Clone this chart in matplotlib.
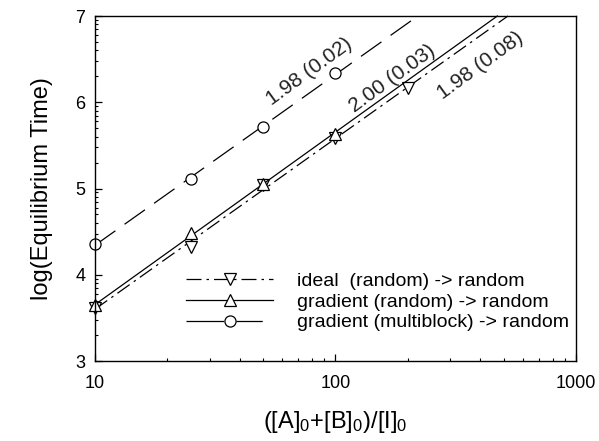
import numpy as np
import matplotlib
matplotlib.use("Agg")
import matplotlib.pyplot as plt
from matplotlib.ticker import FixedLocator, NullFormatter, FuncFormatter

plt.rcParams["font.family"] = ["Liberation Sans", "DejaVu Sans"]
plt.rcParams["mathtext.default"] = "regular"

# Chain-length ratio ([A]0+[B]0)/[I]0 and log of equilibrium time
ratio_ideal = [10, 25, 50, 100, 200]
logt_ideal = [3.62, 4.32, 5.04, 5.58, 6.17]

ratio_grad = [10, 25, 50, 100]
logt_grad = [3.65, 4.48, 5.05, 5.63]

ratio_multi = [10, 25, 50, 100]
logt_multi = [4.36, 5.11, 5.71, 6.34]

# Fitted scaling exponents (standard error)
slope_ideal, err_ideal = 1.98, 0.08
slope_grad, err_grad = 2.00, 0.03
slope_multi, err_multi = 1.98, 0.02

labels = ["ideal  (random) -> random",
          "gradient (random) -> random",
          "gradient (multiblock) -> random"]

fig = plt.figure(figsize=(5.99, 4.41), dpi=100)
ax = fig.add_axes([0.1586, 0.1814, 0.803, 0.7823])
ax.set_xscale("log")
ax.set_xlim(10, 1000)
ax.set_ylim(3, 7)


def fit_line(xs, ys, slope):
    lx = np.log10(np.asarray(xs, float))
    icpt = np.mean(np.asarray(ys) - slope * lx)
    x_end = 10 ** ((7 - icpt) / slope)
    xx = np.logspace(1, np.log10(x_end), 50)
    return xx, icpt + slope * np.log10(xx)


series = [
    (ratio_ideal, logt_ideal, slope_ideal, "v", (0, (12, 4, 2, 4)), (0, (12, 4, 2, 4))),
    (ratio_grad, logt_grad, slope_grad, "^", "-", "-"),
    (ratio_multi, logt_multi, slope_multi, "o", (0, (20, 9)), (0, (30, 10, 21, 20))),
]

handles = []
for (xs, ys, s, mk, ls, leg_ls), lab in zip(series, labels):
    xx, yy = fit_line(xs, ys, s)
    ax.plot(xx, yy, color="black", lw=0.9, linestyle=ls, clip_on=False)
    ax.plot(xs, ys, linestyle="none", marker=mk, markersize=8,
            markerfacecolor="white", markeredgecolor="black", mew=0.9,
            clip_on=False)
    h, = ax.plot([], [], color="black", lw=0.9, linestyle=leg_ls, marker=mk,
                 markersize=8, markerfacecolor="white",
                 markeredgecolor="black", mew=0.9, label=lab)
    handles.append(h)

# Exponent annotations along each line
ann_kw = dict(rotation=36, ha="center", va="center", fontsize=15,
              rotation_mode="anchor", color="#222222")
ax.text(78, 6.35, f"{slope_multi:.2f} ({err_multi:.2f})", **ann_kw)
ax.text(172, 6.28, f"{slope_grad:.2f} ({err_grad:.2f})", **ann_kw)
ax.text(400, 6.43, f"{slope_ideal:.2f} ({err_ideal:.2f})", **ann_kw)

ax.legend(handles=handles, loc="lower right", bbox_to_anchor=(0.985, 0.086),
          frameon=False, fontsize=14, handlelength=4.5, handletextpad=1.2,
          labelspacing=0.15, borderpad=0, borderaxespad=0)

# Ticks
ax.xaxis.set_major_locator(FixedLocator([10, 100, 1000]))
ax.xaxis.set_major_formatter(FuncFormatter(lambda v, p: f"{v:g}"))
ax.xaxis.set_minor_locator(FixedLocator(
    [k * d for d in (10, 100) for k in range(2, 10)]))
ax.xaxis.set_minor_formatter(NullFormatter())
ax.yaxis.set_major_locator(FixedLocator([3, 4, 5, 6, 7]))
ax.yaxis.set_minor_locator(FixedLocator(
    [n + np.log10(k) for n in range(3, 7) for k in range(2, 10)]))
ax.tick_params(which="both", direction="in", top=False, right=False,
               labelsize=13, colors="black")
ax.tick_params(which="major", length=5, width=0.9)
ax.tick_params(which="minor", length=2.5, width=0.8)
ax.tick_params(axis="x", which="major", pad=10)
ax.tick_params(axis="y", which="major", pad=7)
for sp in ax.spines.values():
    sp.set_linewidth(1.0)

ax.set_ylabel("log(Equilibrium Time)", fontsize=17, labelpad=16)
ax.set_xlabel("([A]$_0$+[B]$_0$)/[I]$_0$", fontsize=17, labelpad=12)

fig.savefig("out.png", dpi=100)
